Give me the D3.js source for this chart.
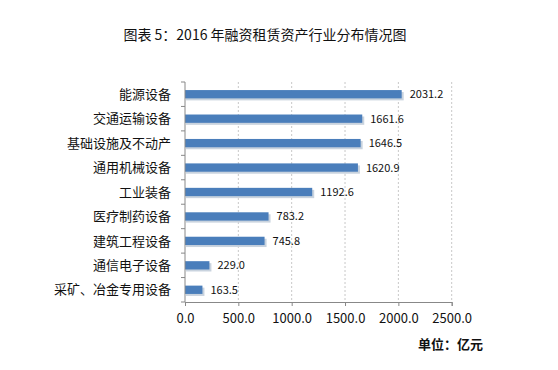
<!DOCTYPE html>
<html><head><meta charset="utf-8">
<script src="https://cdn.jsdelivr.net/npm/d3@7"></script>
<style>
body{margin:0;background:#fff;}
text{font-family:"Noto Sans CJK SC","Noto Sans",sans-serif;fill:#111;}
</style></head>
<body><svg id="c" width="558" height="370"></svg>
<script>
const categories = ["能源设备","交通运输设备","基础设施及不动产","通用机械设备","工业装备","医疗制药设备","建筑工程设备","通信电子设备","采矿、冶金专用设备"];
const values = [2031.2,1661.6,1646.5,1620.9,1192.6,783.2,745.8,229.0,163.5];
const xTicks = [0,500,1000,1500,2000,2500];
const title = "图表 5：2016 年融资租赁资产行业分布情况图";
const unit = "单位：亿元";

const svg = d3.select("#c");
const x = d3.scaleLinear().domain([0,2500]).range([185,451.7]);
const y = d3.scaleBand().domain(categories).range([82,302]).paddingInner(0.66).paddingOuter(0.33);

svg.append("text").attr("x",265).attr("y",40).attr("text-anchor","middle")
  .style("font-size","14px").text(title);

// grid
svg.append("g").selectAll("line").data(xTicks.slice(1)).join("line")
  .attr("x1",d=>x(d)).attr("x2",d=>x(d)).attr("y1",82).attr("y2",302)
  .attr("stroke","#c8c8c8").attr("stroke-dasharray","2,2").attr("stroke-width",1);

// shadows
svg.append("g").selectAll("rect").data(values).join("rect")
  .attr("x",x(0)+1).attr("y",(d,i)=>y(categories[i])+2)
  .attr("width",d=>x(d)-x(0)+1).attr("height",y.bandwidth())
  .attr("fill","#c9d3de");
// bars
svg.append("g").selectAll("rect").data(values).join("rect")
  .attr("x",x(0)).attr("y",(d,i)=>y(categories[i]))
  .attr("width",d=>x(d)-x(0)).attr("height",y.bandwidth())
  .attr("fill","#4a7ebb");

// value labels
svg.append("g").selectAll("text").data(values).join("text")
  .attr("x",d=>x(d)+8).attr("y",(d,i)=>y(categories[i])+y.bandwidth()/2)
  .attr("dy","0.36em").style("font-size","11px").text(d=>d.toFixed(1));

// x axis
const xa = svg.append("g").attr("transform","translate(0,302)")
  .call(d3.axisBottom(x).tickValues(xTicks).tickFormat(d=>d.toFixed(1)).tickSize(4).tickPadding(8));
xa.select(".domain").attr("stroke","#888");
xa.selectAll(".tick line").attr("stroke","#888");
xa.selectAll("text").style("font-size","13px").attr("fill","#111");

// y axis
const bounds = d3.range(categories.length+1).map(i=>82+i*220/categories.length);
svg.append("line").attr("x1",185).attr("x2",185).attr("y1",82).attr("y2",302).attr("stroke","#888");
svg.append("g").selectAll("line").data(bounds).join("line")
  .attr("x1",181).attr("x2",185).attr("y1",d=>d).attr("y2",d=>d).attr("stroke","#888");
svg.append("g").selectAll("text").data(categories).join("text")
  .attr("x",171).attr("y",d=>y(d)+y.bandwidth()/2).attr("dy","0.36em")
  .attr("text-anchor","end").style("font-size","13px").text(d=>d);

svg.append("text").attr("x",483).attr("y",349).attr("text-anchor","end")
  .style("font-size","13px").style("font-weight","bold").text(unit);
</script></body></html>
